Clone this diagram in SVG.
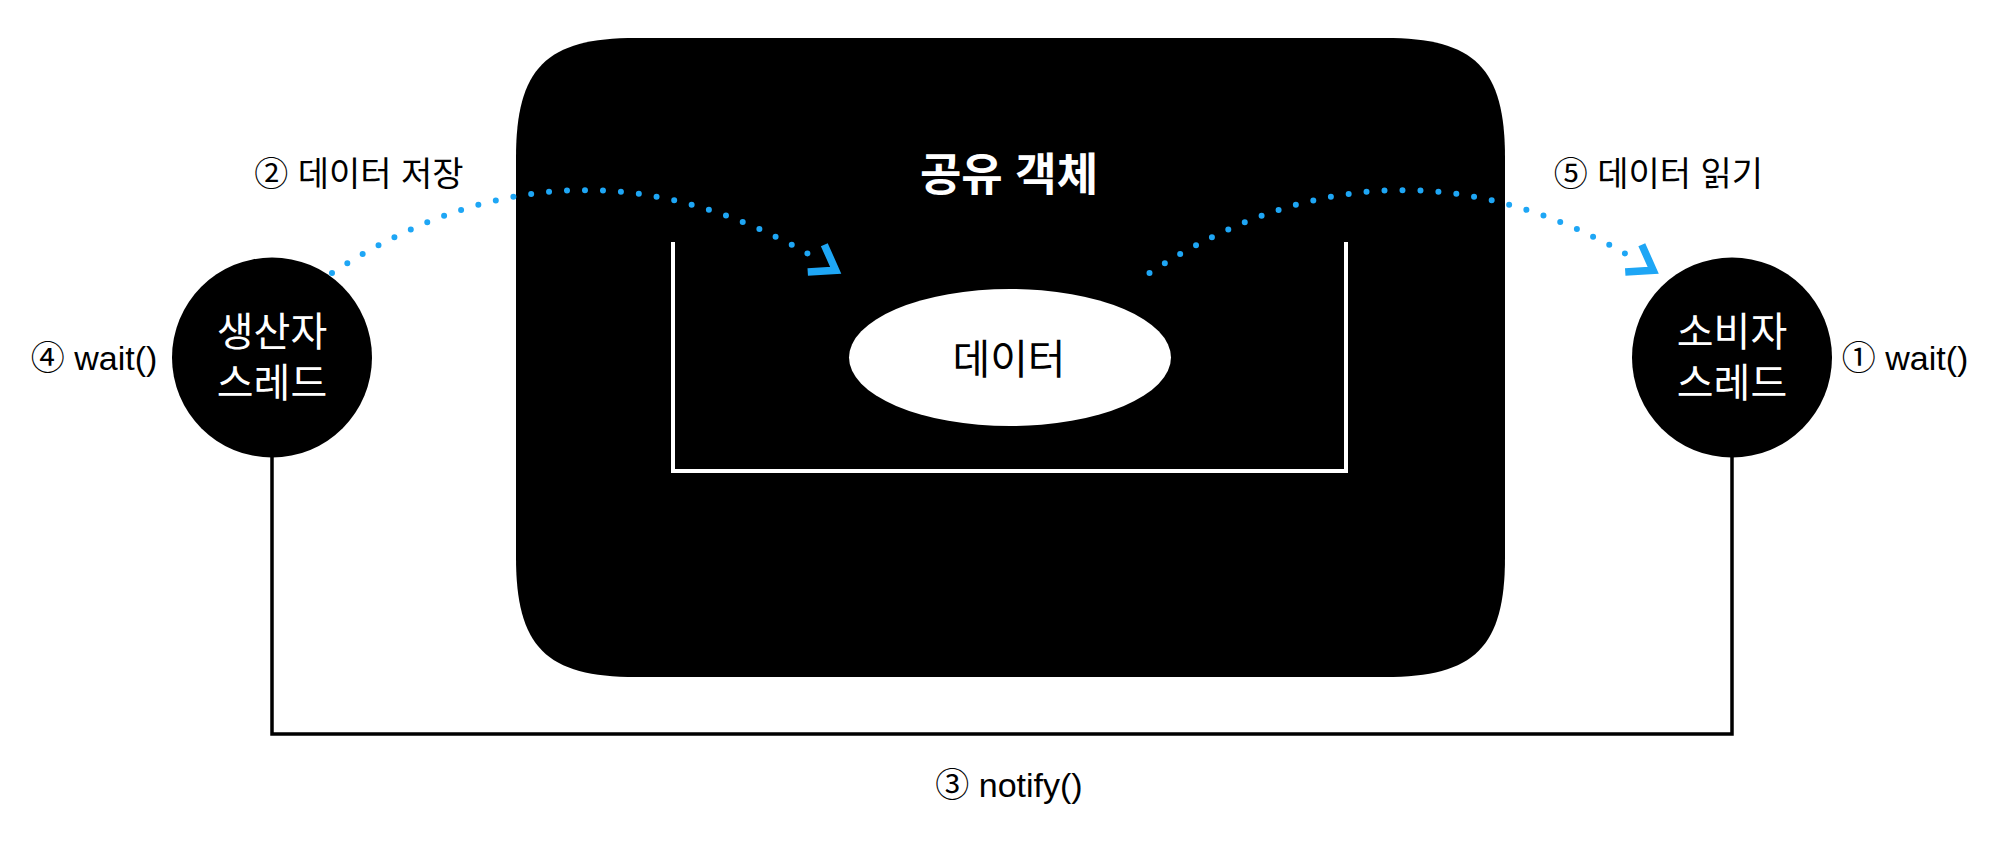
<svg xmlns="http://www.w3.org/2000/svg" width="2008" height="844" viewBox="0 0 2008 844">
  <style>
    .lbl { font-family: "Liberation Sans", "Noto Sans CJK KR", sans-serif; font-size: 34px; fill: #000; text-anchor: middle; }
    .node-txt { font-family: "Liberation Sans", "Noto Sans CJK KR", sans-serif; font-size: 40px; fill: #fff; text-anchor: middle; }
    .title { font-family: "Liberation Sans", "Noto Sans CJK KR", sans-serif; font-size: 45px; font-weight: bold; fill: #fff; text-anchor: middle; }
    .data-txt { font-family: "Liberation Sans", "Noto Sans CJK KR", sans-serif; font-size: 41px; fill: #000; text-anchor: middle; }
    .dots { fill: none; stroke: #1ea6f5; stroke-width: 6; stroke-linecap: round; stroke-dasharray: 0 18; }
    .wire { fill: none; stroke: #000; stroke-width: 3.5; }
  </style>
  <defs>
    <marker id="chev" markerUnits="userSpaceOnUse" orient="auto" viewBox="-30 -30 60 60" markerWidth="60" markerHeight="60" refX="0" refY="0" overflow="visible">
      <path d="M-7,-16 L16,0 L-7,16" fill="none" stroke="#1ea6f5" stroke-width="7.5" stroke-linejoin="miter" stroke-linecap="butt"/>
    </marker>
  </defs>
  <rect width="2008" height="844" fill="#fff"/>

  <g id="shared-object">
    <path d="M636,38 H1385 C1475,38 1505,68 1505,158 V557 C1505,647 1475,677 1385,677 H636 C546,677 516,647 516,557 V158 C516,68 546,38 636,38 Z" fill="#000"/>
    <text class="title" x="1009" y="191">공유 객체</text>
    <path d="M673,242 V471 H1346 V242" fill="none" stroke="#fff" stroke-width="4"/>
  </g>

  <g id="data">
    <ellipse cx="1010" cy="357.5" rx="161" ry="68.5" fill="#fff"/>
    <text class="data-txt" x="1009" y="374">데이터</text>
  </g>

  <g id="producer">
    <circle cx="272" cy="357.5" r="100" fill="#000"/>
    <text class="node-txt" x="272" y="346">생산자</text>
    <text class="node-txt" x="272" y="397">스레드</text>
  </g>

  <g id="consumer">
    <circle cx="1732" cy="357.5" r="100" fill="#000"/>
    <text class="node-txt" x="1732" y="346">소비자</text>
    <text class="node-txt" x="1732" y="397">스레드</text>
  </g>

  <g id="connectors">
    <path class="wire" d="M272,457 V734 H1732 V457"/>
    <path class="dots" d="M332,273 Q576,113 822,262" marker-end="url(#chev)"/>
    <path class="dots" d="M1149.5,273 Q1393.5,113 1639.5,262" marker-end="url(#chev)"/>
  </g>

  <g id="labels">
    <text class="lbl" x="359" y="186">② 데이터 저장</text>
    <text class="lbl" x="1658.5" y="186">⑤ 데이터 읽기</text>
    <text class="lbl" x="94" y="370">④ wait()</text>
    <text class="lbl" x="1905" y="370">① wait()</text>
    <text class="lbl" x="1009" y="797">③ notify()</text>
  </g>
</svg>
